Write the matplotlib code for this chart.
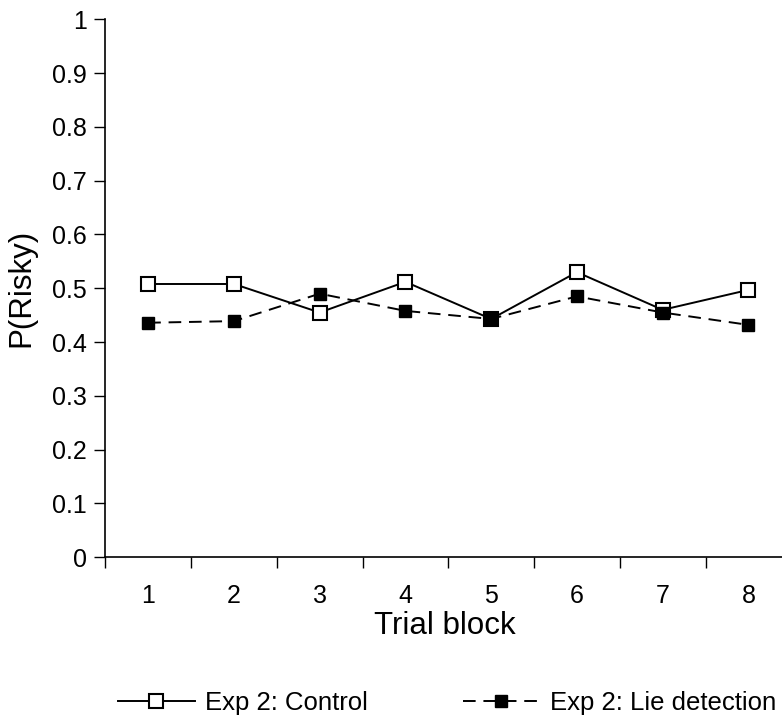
import numpy as np
import matplotlib
matplotlib.use("Agg")
import matplotlib.pyplot as plt

plt.rcParams['font.family'] = ['Liberation Sans', 'DejaVu Sans']

# data
blocks = [1, 2, 3, 4, 5, 6, 7, 8]
control = [0.508, 0.508, 0.455, 0.512, 0.443, 0.530, 0.460, 0.497]
lie_detection = [0.436, 0.439, 0.490, 0.458, 0.443, 0.485, 0.455, 0.432]
y_ticks = [0, 0.1, 0.2, 0.3, 0.4, 0.5, 0.6, 0.7, 0.8, 0.9, 1]
y_tick_labels = ["0", "0.1", "0.2", "0.3", "0.4", "0.5", "0.6", "0.7", "0.8", "0.9", "1"]

fig = plt.figure(figsize=(7.82, 7.19), dpi=100)
# axes runs a bit past the right edge, like the cropped original
ax = fig.add_axes([105.3 / 782, 1 - 557.3 / 719, 686 / 782, 538 / 719])

ax.plot(blocks, control, color='black', lw=1.4, marker='s', ms=10,
        mfc='white', mec='black', mew=1.5, label="Exp 2: Control")
ax.plot(blocks, lie_detection, color='black', lw=1.4, ls=(0, (6.5, 4.0)),
        marker='s', ms=8, mfc='black', mec='black',
        label="Exp 2: Lie detection")

ax.set_xlim(0.5, 8.5)
ax.set_ylim(0, 1)

ax.spines['top'].set_visible(False)
ax.spines['right'].set_visible(False)
for s in ['left', 'bottom']:
    ax.spines[s].set_linewidth(1.2)

ax.set_yticks(y_ticks)
ax.set_yticklabels(y_tick_labels)
ax.tick_params(axis='y', length=8, width=1, pad=5.5, labelsize=18)

# ticks between categories, labels at centres
ax.set_xticks(np.arange(0.5, 9, 1))
ax.set_xticklabels([])
ax.tick_params(axis='x', which='major', length=8, width=1)
ax.set_xticks(blocks, minor=True)
ax.set_xticklabels([str(b) for b in blocks], minor=True)
ax.tick_params(axis='x', which='minor', length=0, pad=19, labelsize=18)

ax.set_ylabel("P(Risky)", fontsize=22.5, va='center')
ax.yaxis.set_label_coords((21 - 105.3) / 686, 0.5)
ax.set_xlabel("Trial block", fontsize=22.5, va='center')
ax.xaxis.set_label_coords((445 - 105.3) / 686, (557.3 - 625.5) / 538)

fig.legend(loc='center', bbox_to_anchor=(447 / 782, 1 - 703 / 719), ncol=2,
           frameon=False, fontsize=18.5, handlelength=3.0, handletextpad=0.4,
           columnspacing=3.7, borderpad=0, borderaxespad=0)

fig.savefig("out.png", dpi=100)
